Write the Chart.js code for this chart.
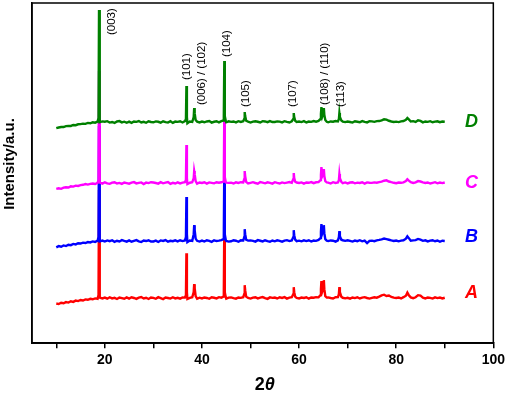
<!DOCTYPE html>
<html>
<head>
<meta charset="utf-8">
<script src="https://cdn.jsdelivr.net/npm/chart.js@4.4.1/dist/chart.umd.min.js"></script>
<style>
    html, body { margin: 0; padding: 0; background: #fff; }
    #wrap { width: 509px; height: 395px; }
</style>
</head>
<body>
<div id="wrap"><canvas id="xrdChart" width="509" height="395"></canvas></div>
<script>
// 2theta grid (degrees)
const twoTheta = [
    10, 10.5, 11, 11.5, 12, 12.5, 13, 13.5, 14, 14.5,
    15, 15.5, 16, 16.5, 17, 17.5, 18, 18.5, 18.7, 18.8, 18.9, 19, 19.5,
    20, 20.5, 21, 21.5, 22, 22.5, 23, 23.5, 24, 24.5,
    25, 25.5, 26, 26.5, 27, 27.5, 28, 28.5, 29, 29.5,
    30, 30.5, 31, 31.5, 32, 32.5, 33, 33.5, 34, 34.5,
    35, 35.5, 36, 36.5, 36.7, 36.8, 36.9, 37, 37.5, 38, 38.3, 38.4, 38.5, 38.7, 39, 39.5,
    40, 40.5, 41, 41.5, 42, 42.5, 43, 43.5, 44, 44.4, 44.5, 44.6, 44.7, 44.9, 45, 45.5,
    46, 46.5, 47, 47.5, 48, 48.5, 48.7, 48.8, 48.9, 49.1, 49.5,
    50, 50.5, 51, 51.5, 52, 52.5, 53, 53.5, 54, 54.5,
    55, 55.5, 56, 56.5, 57, 57.5, 58, 58.5, 58.8, 58.9, 59, 59.2, 59.5,
    60, 60.5, 61, 61.5, 62, 62.5, 63, 63.5, 64, 64.4, 64.5, 64.6, 64.8, 65, 65.1, 65.2, 65.4, 65.7,
    66, 66.5, 67, 67.5, 68, 68.2, 68.3, 68.4, 68.7, 69, 69.5,
    70, 70.5, 71, 71.5, 72, 72.5, 73, 73.5, 74, 74.5,
    75, 75.5, 76, 76.5, 77, 77.5, 78, 78.5, 79, 79.5,
    80, 80.5, 81, 81.5, 82, 82.3, 82.6, 83, 83.5, 84, 84.5, 85,
    85.5, 86, 86.5, 87, 87.5, 88, 88.5, 89, 89.5, 90
];

// intensities above each pattern's own baseline (a.u.)
const intensA = [
    -5.3, -5.9, -4.6, -5.1, -3.9, -4.4, -3.1, -3.7, -2.4, -2.9,
    -1.8, -2.3, -1.2, -1.6, -0.6, -1.1, -0.2, -0.6, 3, 108, 4, 0.5, -0.3,
    0.6, -0.5, 0.9, -0.2, 0.3, -0.8, 0.7, 0.1, -0.6, 0.8,
    -0.4, 0.9, 0.2, -0.7, 0.5, 1.1, -0.3, 0.4, -0.8, 0.6,
    0.3, -0.6, 1.0, 0.1, -0.9, 0.7, 0.2, -0.4, 0.9, -0.2,
    0.4, -0.5, 0.8, 0.6, 3, 45, 6, -0.8, 0.3, 0.9, 6, 14, 10, 2, -0.6, 0.5,
    -0.3, 0.7, 0.2, -0.6, 0.9, 0.4, -0.2, 1.0, 0.5, 1.5, 5, 72, 6, 1, -0.4, 0.6,
    0.8, 0.1, -0.5, 0.7, 0.3, 1.0, 4, 13, 8, 1.5, 0.2,
    -0.4, 0.6, 0.9, -0.2, 0.5, 1.1, 0.0, -0.7, 0.8, 0.3,
    0.6, -0.3, 0.9, 0.2, 1.0, -0.4, 0.5, 0.9, 4, 11, 6, 1.5, 0.3,
    -0.3, 0.6, 0.2, 0.9, -0.5, 0.7, 0.4, 1.0, 0.8, 3, 9, 17, 7, 10, 18, 9, 2, 0.6,
    0.8, 0.2, -0.3, 0.9, 1.0, 4, 11, 6, 1.5, 0.4, -0.2,
    0.4, -0.5, 0.7, 0.1, 0.9, -0.3, 0.6, 1.0, 0.2, -0.4,
    0.3, 0.9, 0.5, 1.5, 2.8, 3.5, 2.2, 2.6, 1.2, 0.5,
    0.2, 0.7, -0.3, 1.0, 2.5, 5.5, 3, 0.8, 0.0, 0.9, 3, 2.5,
    0.5, -0.2, 0.7, 0.3, -0.4, 0.8, 0.1, 0.6, -0.3, 0.4
];
const intensB = [
    -6.2, -5.0, -5.6, -4.3, -4.9, -3.6, -4.0, -2.8, -3.3, -2.1,
    -2.4, -1.5, -1.9, -0.9, -1.3, -0.3, -0.8, 0.4, 4, 115, 5, -0.2, 0.6,
    -0.4, 0.7, 0.0, 0.9, -0.7, 0.4, -0.3, 1.0, 0.2, -0.5,
    0.8, -0.6, 0.3, 1.0, -0.2, -0.9, 0.6, 0.1, 0.9, -0.4,
    -0.3, 0.5, -0.8, 0.7, 0.2, 1.1, -0.5, 0.3, -0.1, 0.8,
    -0.2, 0.9, 0.1, 0.7, 4, 44, 7, -1.0, 0.6, 0.2, 7, 16, 11, 2.5, 0.3, -0.4,
    0.6, -0.4, 0.9, 0.3, -0.7, 0.8, 0.1, 0.5, 1.0, 2, 6, 74, 7, 1.2, 0.2, -0.5,
    -0.1, 0.9, 0.4, -0.6, 0.8, 0.6, 4, 12, 7, 1.4, 0.5,
    0.7, 0.2, -0.5, 1.0, 0.4, -0.3, 0.9, 0.1, -0.6, 0.6,
    -0.2, 0.8, 0.3, -0.5, 0.6, 1.0, 0.1, 0.7, 4, 11, 6, 1.5, 0.0,
    0.5, -0.2, 0.8, 0.1, 0.9, -0.4, 0.6, 0.3, 1.2, 3, 9, 17, 8, 11, 16, 8, 2, 0.4,
    0.1, 0.7, 0.4, -0.5, 0.8, 4, 10, 5, 1.4, 0.9, 0.3,
    0.8, 0.2, -0.4, 0.6, 0.0, 0.9, -0.2, 0.5, -2.0, 0.3,
    0.5, -0.1, 0.8, 1.2, 1.8, 2.6, 2.0, 1.4, 0.7, 0.2,
    0.6, -0.2, 0.5, 0.9, 2.4, 4.8, 3, 0.4, 0.8, 1.0, 2.2, 1.5,
    0.3, 0.8, -0.3, 0.5, 0.9, -0.1, 0.6, -0.6, 0.4, 0.2
];
const intensC = [
    -5.8, -5.2, -5.7, -4.5, -4.1, -4.4, -3.2, -3.5, -2.5, -2.8,
    -2.0, -1.7, -1.0, -1.5, -0.7, -0.4, -0.9, 0.2, 3, 112, 4, 0.6, -0.5,
    0.8, -0.2, -0.7, 0.5, 0.9, -0.4, 0.2, -0.8, 0.6, 0.0,
    -0.6, 0.4, 1.0, -0.3, 0.2, 0.7, -0.9, 0.5, 0.0, 0.9,
    0.6, 0.1, -0.5, 0.9, -0.2, 0.4, 1.0, -0.7, 0.3, -0.4,
    0.7, -0.3, 0.5, 1.0, 3, 38, 5, -0.9, 0.4, 0.8, 5, 12, 9, 2, -0.5, 0.6,
    0.1, 0.8, -0.5, 0.7, 0.3, -0.2, 0.9, 0.4, 0.8, 1.5, 5, 70, 6, 1, 0.5, 0.2,
    0.4, -0.4, 0.8, 0.2, 0.9, 0.7, 4, 12, 7, 1.2, -0.3,
    0.3, 0.9, 0.1, -0.6, 1.0, 0.5, -0.2, 0.8, 0.2, -0.5,
    0.9, 0.2, -0.4, 0.7, 0.0, 0.5, 1.0, 0.3, 4, 10, 5, 1.4, 0.6,
    0.2, 0.7, -0.5, 0.6, 0.3, 1.0, -0.1, 0.8, 1.0, 3, 8, 16, 7, 9, 14, 7, 2, 0.8,
    0.5, -0.4, 0.9, 0.2, 0.6, 3, 9, 5, 1.3, 0.0, 0.7,
    -0.3, 0.6, 0.9, -0.2, 0.5, 0.1, 0.8, -0.5, 0.7, 0.4,
    0.2, 0.7, 0.4, 1.0, 1.5, 2.4, 2.8, 1.6, 0.9, 0.3,
    -0.1, 0.6, 0.3, 0.8, 2.0, 3.8, 2.5, 0.9, 0.2, 0.7, 2.0, 1.6,
    0.8, 0.1, 0.6, -0.4, 0.3, 0.9, -0.2, 0.5, 0.0, 0.6
];
const intensD = [
    -6.1, -5.4, -4.9, -5.0, -4.0, -3.8, -3.9, -2.9, -3.1, -2.2,
    -2.1, -1.6, -1.8, -0.8, -1.2, -0.2, -0.6, 0.5, 4, 112, 5, -0.1, 0.7,
    0.3, 0.9, -0.5, 0.1, -0.9, 0.6, 1.0, -0.3, 0.4, -0.7,
    0.5, -0.8, 0.6, 0.2, 1.0, -0.4, 0.3, -0.7, 0.8, 0.1,
    -0.2, 0.7, 0.3, -0.6, 0.8, 0.0, -0.4, 0.9, -0.8, 0.5,
    0.2, 0.8, -0.4, 0.9, 3, 36, 5, -1.2, 0.5, 0.1, 5, 14, 9, 2, 0.4, -0.3,
    0.5, -0.2, 0.6, 1.0, -0.5, 0.3, 0.8, -0.3, 0.9, 1.5, 5, 61, 6, 1, -0.2, 0.7,
    0.2, 0.6, -0.3, 0.9, 0.1, 0.8, 3, 10, 6, 1.3, 0.4,
    -0.5, 0.4, 0.8, 0.3, -0.4, 0.9, 0.6, -0.1, 1.0, 0.0,
    0.1, 0.7, 0.5, -0.3, 0.9, 0.2, -0.4, 0.8, 3, 9, 5, 1.3, 0.2,
    0.6, 0.0, 0.9, -0.4, 0.5, 0.2, 1.0, 0.4, 1.1, 3, 8, 15, 6, 9, 14, 7, 2, 0.3,
    -0.2, 0.6, 0.3, 1.0, 0.7, 3, 9, 5, 1.5, 0.5, 0.0,
    0.6, 0.1, -0.5, 0.8, 0.3, -0.2, 1.0, 0.2, -0.3, 0.9,
    0.7, 0.2, 0.9, 1.0, 1.8, 2.8, 2.4, 1.3, 0.6, 0.1,
    0.4, 0.0, 0.7, 1.1, 2.2, 4.0, 2.6, 0.6, 0.9, 0.1, 1.8, 1.2,
    -0.3, 0.6, 0.2, 0.9, -0.2, 0.4, 0.8, -0.1, 0.5, 0.3
];

const sampleNames = ['A', 'B', 'C', 'D'];
const sampleOffsets = [45, 102, 160, 221];   // vertical stacking of the patterns
const sampleColors = ['#ff0000', '#0000ff', '#ff00ff', '#008000'];
const sampleIntens = [intensA, intensB, intensC, intensD];

const xTickValues = [10, 20, 30, 40, 50, 60, 70, 80, 90, 100];
const xTickLabels = [20, 40, 60, 80, 100];

// reflections marked above pattern D
const peakNames = ['(003)', '(101)', '(006) / (102)', '(104)', '(105)', '(107)', '(108) / (110)', '(113)'];
const peakLabelX = [21.4, 36.8, 39.9, 45.2, 49.1, 58.75, 65.3, 68.6];
const peakLabelY = [308, 263, 238, 286, 236, 236, 238, 236];

const FONT = '"Liberation Sans", Arial, Helvetica, sans-serif';

const datasets = sampleNames.map((name, k) => ({
    label: name,
    data: twoTheta.map((t, i) => ({ x: t, y: sampleOffsets[k] + sampleIntens[k][i] })),
    borderColor: sampleColors[k],
    backgroundColor: sampleColors[k],
    borderWidth: 2.4,
    pointRadius: 0,
    tension: 0,
    fill: false,
    order: 3 - k
}));

const extras = {
    id: 'extras',
    afterDatasetsDraw(chart) {
        const { ctx, chartArea, scales } = chart;
        const x = scales.x, y = scales.y;
        ctx.save();

        // frame
        ctx.strokeStyle = '#000';
        ctx.lineWidth = 1.5;
        ctx.strokeRect(chartArea.left, chartArea.top, chartArea.right - chartArea.left, chartArea.bottom - chartArea.top);

        // peak indices
        ctx.fillStyle = '#000';
        ctx.font = '11.5px ' + FONT;
        ctx.textAlign = 'left';
        ctx.textBaseline = 'middle';
        peakNames.forEach((txt, i) => {
            ctx.save();
            ctx.translate(x.getPixelForValue(peakLabelX[i]), y.getPixelForValue(peakLabelY[i]));
            ctx.rotate(-Math.PI / 2);
            ctx.fillText(txt, 0, 0);
            ctx.restore();
        });

        // sample letters
        ctx.font = 'italic bold 18px ' + FONT;
        ctx.textAlign = 'center';
        const letterY = [50, 106, 160, 221];
        sampleNames.forEach((name, k) => {
            ctx.fillStyle = sampleColors[k];
            ctx.fillText(name, x.getPixelForValue(95.5), y.getPixelForValue(letterY[k]));
        });

        // axis titles
        ctx.fillStyle = '#000';
        ctx.save();
        ctx.translate(10, 164);
        ctx.rotate(-Math.PI / 2);
        ctx.font = 'bold 15px ' + FONT;
        ctx.textAlign = 'center';
        ctx.fillText('Intensity/a.u.', 0, 0);
        ctx.restore();

        ctx.textAlign = 'left';
        ctx.font = 'bold 18px ' + FONT;
        const w2 = ctx.measureText('2').width;
        ctx.font = 'italic bold 18px ' + FONT;
        const wT = ctx.measureText('\u03B8').width;
        const cx = (chartArea.left + chartArea.right) / 2 + 2;
        const startX = cx - (w2 + wT) / 2;
        ctx.font = 'bold 18px ' + FONT;
        ctx.fillText('2', startX, 385);
        ctx.font = 'italic bold 18px ' + FONT;
        ctx.fillText('\u03B8', startX + w2, 385);

        ctx.restore();
    }
};

const ctx = document.getElementById('xrdChart').getContext('2d');
const xrdChart = new Chart(ctx, {
    type: 'line',
    data: { datasets: datasets },
    options: {
        responsive: false,
        animation: false,
        devicePixelRatio: 1,
        layout: { padding: { left: 32, top: 3, right: 14, bottom: 22 } },
        plugins: {
            legend: { display: false },
            tooltip: { enabled: false }
        },
        scales: {
            x: {
                type: 'linear',
                min: 5,
                max: 100,
                afterBuildTicks: axis => {
                    axis.ticks = xTickValues.map(v => ({ value: v }));
                },
                ticks: {
                    autoSkip: false,
                    maxRotation: 0,
                    padding: 4,
                    color: '#000',
                    font: { family: FONT, size: 14, weight: 'bold' },
                    callback: v => xTickLabels.includes(v) ? String(v) : ''
                },
                grid: {
                    display: true,
                    drawOnChartArea: false,
                    drawTicks: true,
                    tickLength: 5,
                    color: '#000',
                    lineWidth: 1.5
                },
                border: { display: true, color: '#000', width: 1.5 }
            },
            y: {
                min: 0,
                max: 340,
                ticks: { display: false },
                grid: { display: false, drawTicks: false },
                border: { display: true, color: '#000', width: 1.5 }
            }
        }
    },
    plugins: [extras]
});
</script>
</body>
</html>
